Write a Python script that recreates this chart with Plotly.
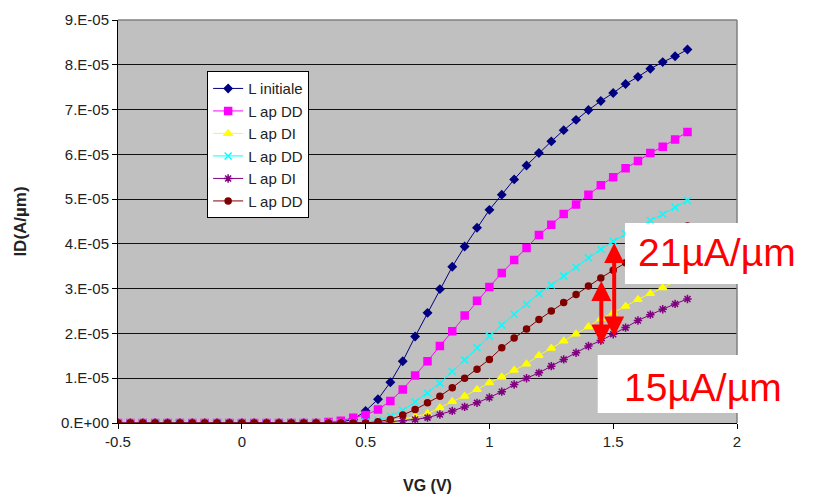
import plotly.graph_objects as go
import numpy as np

# Gate voltage (V)
VG = [-0.50, -0.45, -0.40, -0.35, -0.30, -0.25, -0.20, -0.15, -0.10, -0.05,
      0.00, 0.05, 0.10, 0.15, 0.20, 0.25, 0.30, 0.35, 0.40, 0.45,
      0.50, 0.55, 0.60, 0.65, 0.70, 0.75, 0.80, 0.85, 0.90, 0.95,
      1.00, 1.05, 1.10, 1.15, 1.20, 1.25, 1.30, 1.35, 1.40, 1.45,
      1.50, 1.55, 1.60, 1.65, 1.70, 1.75, 1.80]

# Drain current, in units of 1e-5 A/um
L_initiale = [0]*18 + [0.02, 0.08,
      0.27, 0.53, 0.91, 1.38, 1.93, 2.46, 2.99, 3.49, 3.94, 4.36,
      4.76, 5.10, 5.44, 5.75, 6.03, 6.29, 6.54, 6.77, 6.99, 7.19,
      7.37, 7.57, 7.73, 7.91, 8.06, 8.19, 8.34]
L_ap_DD_1 = [0]*17 + [0.02, 0.05, 0.12,
      0.18, 0.30, 0.49, 0.75, 1.06, 1.38, 1.72, 2.05, 2.40, 2.73,
      3.04, 3.35, 3.64, 3.91, 4.20, 4.43, 4.67, 4.88, 5.10, 5.31,
      5.49, 5.69, 5.85, 6.03, 6.17, 6.33, 6.50]
L_ap_DI_1 = [0]*20 + [
      0.00, 0.02, 0.05, 0.09, 0.14, 0.21, 0.34, 0.48, 0.60, 0.75,
      0.90, 1.03, 1.18, 1.32, 1.51, 1.67, 1.83, 1.99, 2.15, 2.33,
      2.46, 2.61, 2.76, 2.89, 3.02, 3.16, 3.30]
L_ap_DD_2 = [0]*20 + [
      0.02, 0.06, 0.15, 0.28, 0.47, 0.67, 0.89, 1.15, 1.41, 1.68,
      1.94, 2.19, 2.43, 2.65, 2.89, 3.08, 3.28, 3.48, 3.69, 3.88,
      4.06, 4.22, 4.37, 4.52, 4.66, 4.82, 4.97]
L_ap_DI_2 = [0]*20 + [
      0.00, 0.01, 0.03, 0.05, 0.08, 0.12, 0.19, 0.27, 0.36, 0.45,
      0.57, 0.70, 0.86, 1.00, 1.12, 1.27, 1.42, 1.57, 1.72, 1.84,
      1.98, 2.13, 2.29, 2.42, 2.54, 2.66, 2.77]
L_ap_DD_3 = [0]*20 + [
      0.00, 0.03, 0.08, 0.18, 0.30, 0.45, 0.60, 0.79, 1.00, 1.20,
      1.42, 1.68, 1.90, 2.10, 2.31, 2.50, 2.69, 2.87, 3.06, 3.24,
      3.41, 3.58, 3.75, 3.92, 4.08, 4.24, 4.40]

series_names = ["L initiale", "L ap DD", "L ap DI", "L ap DD", "L ap DI", "L ap DD"]
series_data = [L_initiale, L_ap_DD_1, L_ap_DI_1, L_ap_DD_2, L_ap_DI_2, L_ap_DD_3]

x_ticks = [-0.5, 0, 0.5, 1, 1.5, 2]
x_ticktext = ["-0.5", "0", "0.5", "1", "1.5", "2"]
y_ticks = [0, 1e-5, 2e-5, 3e-5, 4e-5, 5e-5, 6e-5, 7e-5, 8e-5, 9e-5]
y_ticktext = ["0.E+00", "1.E-05", "2.E-05", "3.E-05", "4.E-05",
              "5.E-05", "6.E-05", "7.E-05", "8.E-05", "9.E-05"]

# Arrow annotations (VG, ID top, ID bottom) in data units
arrow_long = (1.504, 4.02e-5, 1.90e-5)
arrow_short = (1.452, 3.17e-5, 1.72e-5)

styles = [
    dict(color="#000080", symbol="diamond", size=6, lw=1),
    dict(color="#FF00FF", symbol="square", size=7, lw=1),
    dict(color="#FFFF00", symbol="triangle-up", size=7, lw=1),
    dict(color="#00FFFF", symbol="x-thin-open", size=7, lw=1),
    dict(color="#800080", symbol="asterisk-open", size=7, lw=1),
    dict(color="#800000", symbol="circle", size=6, lw=1),
]

fig = go.Figure()
for name, vals, st in zip(series_names, series_data, styles):
    y = np.array(vals) * 1e-5
    fig.add_trace(go.Scatter(
        x=VG, y=y, mode="lines+markers", name=name,
        line=dict(color=st["color"], width=st["lw"]),
        marker=dict(symbol=st["symbol"], size=st["size"], color=st["color"],
                    line=dict(color=st["color"], width=1.5)),
    ))

font_main = "Liberation Sans, Arial, sans-serif"

fig.update_layout(
    width=815, height=490,
    margin=dict(l=110, r=86, t=12, b=75),
    paper_bgcolor="white",
    plot_bgcolor="#C0C0C0",
    font=dict(family=font_main, size=15, color="#222"),
    showlegend=True,
    legend=dict(x=0.144, y=0.873, xanchor="left", yanchor="top",
                bgcolor="white", bordercolor="black", borderwidth=1,
                font=dict(size=15, color="#222"), tracegroupgap=0,
                itemwidth=30),
    xaxis=dict(range=[-0.5, 2], tickvals=x_ticks, ticktext=x_ticktext,
               automargin=False,
               showgrid=False, zeroline=False, showline=True,
               linecolor="black", linewidth=1, ticks="outside", ticklen=5,
               tickcolor="black",
               title=dict(text="<b>VG (V)</b>", font=dict(size=16, color="#222"),
                          standoff=30)),
    yaxis=dict(range=[0, 9e-5], tickvals=y_ticks, ticktext=y_ticktext,
               automargin=False,
               showgrid=True, gridcolor="#111", gridwidth=1.4, zeroline=False,
               showline=True, linecolor="black", linewidth=1,
               ticks="outside", ticklen=5, tickcolor="black",
               title=dict(text="<b>ID(A/µm)</b>", font=dict(size=17, color="#222"),
                          standoff=30)),
)

# plot border (top and right, grey)
fig.add_shape(type="line", xref="paper", yref="paper", x0=0, x1=1, y0=1, y1=1,
              line=dict(color="#808080", width=1.5), layer="above")
fig.add_shape(type="line", xref="paper", yref="paper", x0=1, x1=1, y0=0, y1=1,
              line=dict(color="#808080", width=1.5), layer="above")

# white label boxes
fig.add_shape(type="rect", xref="paper", yref="paper", x0=0.819, x1=1.2,
              y0=0.345, y1=0.496, fillcolor="white", line=dict(width=0),
              layer="above")
fig.add_shape(type="rect", xref="paper", yref="paper", x0=0.775, x1=1.2,
              y0=0.025, y1=0.169, fillcolor="white", line=dict(width=0),
              layer="above")

fig.add_annotation(xref="paper", yref="paper", x=0.968, y=0.422, text="21µA/µm",
                   showarrow=False, xanchor="center", yanchor="middle",
                   font=dict(family=font_main, size=39, color="#FF0000"))
fig.add_annotation(xref="paper", yref="paper", x=0.945, y=0.087, text="15µA/µm",
                   showarrow=False, xanchor="center", yanchor="middle",
                   font=dict(family=font_main, size=39, color="#FF0000"))

for (vx, ytop, ybot) in [arrow_long, arrow_short]:
    fig.add_annotation(x=vx, y=ytop, ax=vx, ay=ybot, xref="x", yref="y",
                       axref="x", ayref="y", text="", showarrow=True,
                       arrowside="end+start", arrowhead=2, arrowsize=1,
                       arrowwidth=4, arrowcolor="#FF0000",
                       standoff=0, startstandoff=0)

fig.write_html("out.html")
